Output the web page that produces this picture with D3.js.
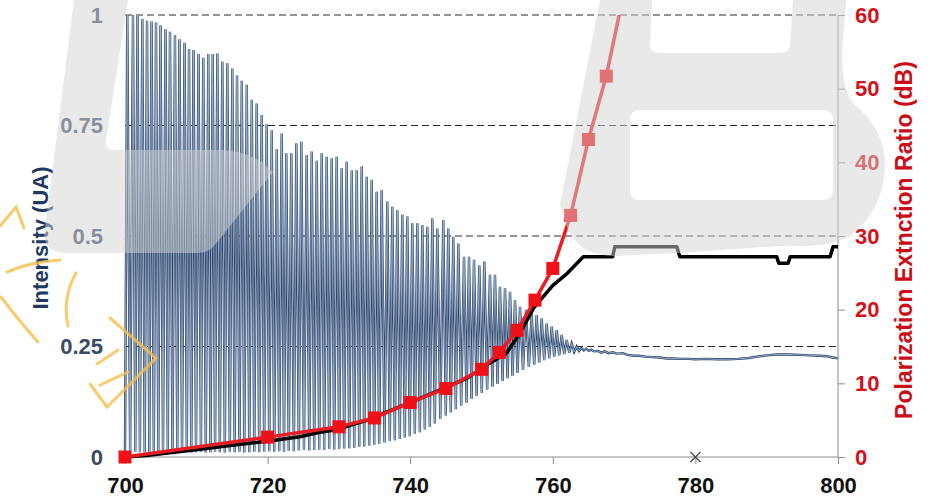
<!DOCTYPE html>
<html>
<head>
<meta charset="utf-8">
<script src="https://cdn.jsdelivr.net/npm/d3@7"></script>
<style>
  html, body { margin: 0; padding: 0; background: #fff; }
  svg { display: block; font-family: "Liberation Sans", Arial, sans-serif; }
</style>
</head>
<body>
<svg width="938" height="501"></svg>
<script>
// fringe maxima (nm, intensity)
var peakWl = [700.32, 701.12, 701.75, 702.43, 703.09, 703.72, 704.35, 704.98, 705.68, 706.31,
  707.01, 707.64, 708.35, 708.98, 709.61, 710.31, 710.98, 711.68, 712.30, 712.95,
  713.65, 714.35, 715.05, 715.71, 716.38, 717.08, 717.78, 718.47, 719.17, 719.87,
  720.58, 721.28, 721.98, 722.62, 723.32, 724.03, 724.73, 725.48, 726.19, 726.89,
  727.59, 728.29, 728.99, 729.69, 730.39, 731.09, 731.80, 732.50, 733.20, 733.90,
  734.60, 735.30, 736.00, 736.79, 737.49, 738.19, 738.89, 739.59, 740.29, 741.00,
  741.70, 742.40, 743.10, 743.80, 744.64, 745.34, 746.04, 746.75, 747.55, 748.25,
  748.95, 749.69, 750.39, 751.19, 751.89, 752.59, 753.30, 754.00, 754.70, 755.40,
  756.24, 757.04, 757.74, 758.44, 759.14, 759.85, 760.55, 761.25, 761.95, 762.65,
  763.35, 764.00, 764.70, 765.40]
var peakI = [1.000, 1.000, 0.998, 0.991, 0.987, 0.985, 0.983, 0.977, 0.968, 0.962,
  0.955, 0.945, 0.937, 0.923, 0.921, 0.912, 0.903, 0.912, 0.912, 0.913,
  0.894, 0.891, 0.879, 0.863, 0.851, 0.842, 0.808, 0.800, 0.774, 0.753,
  0.739, 0.696, 0.732, 0.687, 0.687, 0.710, 0.713, 0.683, 0.691, 0.670,
  0.687, 0.679, 0.676, 0.679, 0.653, 0.668, 0.649, 0.649, 0.657, 0.634,
  0.627, 0.600, 0.604, 0.578, 0.566, 0.559, 0.548, 0.544, 0.529, 0.529,
  0.525, 0.521, 0.540, 0.517, 0.536, 0.517, 0.498, 0.483, 0.453, 0.453,
  0.446, 0.434, 0.442, 0.412, 0.412, 0.385, 0.382, 0.374, 0.355, 0.340,
  0.333, 0.325, 0.321, 0.314, 0.302, 0.295, 0.287, 0.276, 0.265, 0.257,
  0.250, 0.247, 0.245, 0.243]
// fringe minima
var troughWl = [700.00, 700.72, 701.44, 702.09, 702.76, 703.41, 704.04, 704.67, 705.33, 706.00,
  706.66, 707.33, 708.00, 708.67, 709.30, 709.96, 710.65, 711.33, 711.99, 712.63,
  713.30, 714.00, 714.70, 715.38, 716.05, 716.73, 717.43, 718.13, 718.82, 719.52,
  720.23, 720.93, 721.63, 722.30, 722.97, 723.68, 724.38, 725.10, 725.84, 726.54,
  727.24, 727.94, 728.64, 729.34, 730.04, 730.74, 731.45, 732.15, 732.85, 733.55,
  734.25, 734.95, 735.65, 736.40, 737.14, 737.84, 738.54, 739.24, 739.94, 740.65,
  741.35, 742.05, 742.75, 743.45, 744.22, 744.99, 745.69, 746.40, 747.15, 747.90,
  748.60, 749.32, 750.04, 750.79, 751.54, 752.24, 752.95, 753.65, 754.35, 755.05,
  755.82, 756.64, 757.39, 758.09, 758.79, 759.50, 760.20, 760.90, 761.60, 762.30,
  763.00, 763.68, 764.35, 765.05, 765.75]
var troughI = [0.012, 0.010, 0.012, 0.011, 0.010, 0.012, 0.011, 0.010, 0.012, 0.011,
  0.010, 0.012, 0.011, 0.012, 0.010, 0.011, 0.012, 0.010, 0.011, 0.012,
  0.011, 0.010, 0.012, 0.011, 0.012, 0.010, 0.011, 0.012, 0.011, 0.012,
  0.013, 0.012, 0.013, 0.012, 0.014, 0.013, 0.015, 0.016, 0.015, 0.016,
  0.017, 0.016, 0.018, 0.017, 0.018, 0.019, 0.020, 0.021, 0.023, 0.024,
  0.026, 0.028, 0.030, 0.033, 0.036, 0.038, 0.041, 0.044, 0.047, 0.052,
  0.056, 0.062, 0.068, 0.076, 0.086, 0.094, 0.101, 0.108, 0.116, 0.123,
  0.131, 0.138, 0.145, 0.152, 0.159, 0.165, 0.172, 0.178, 0.184, 0.190,
  0.197, 0.204, 0.209, 0.214, 0.219, 0.223, 0.227, 0.230, 0.233, 0.236,
  0.238, 0.240, 0.241, 0.240, 0.239]
// flat part after the fringes die out
var tailWl = [766.3, 766.8, 767.3, 767.8, 768.4, 769.0, 769.8, 770.5, 771.3, 772.0,
  773.0, 774.0, 775.0, 776.0, 777.0, 778.0, 779.0, 780.0, 781.5, 783.0,
  784.5, 786.0, 787.5, 788.6, 790.0, 791.4, 793.0, 794.7, 796.0, 797.3,
  798.5, 799.3, 800.0]
var tailI = [0.240, 0.236, 0.239, 0.235, 0.237, 0.234, 0.235, 0.231, 0.229, 0.229,
  0.227, 0.226, 0.225, 0.223, 0.223, 0.222, 0.222, 0.221, 0.222, 0.221,
  0.221, 0.222, 0.224, 0.227, 0.230, 0.232, 0.232, 0.231, 0.230, 0.229,
  0.228, 0.225, 0.223]

// extinction ratio, continuous (black) and measured points (red)
var blackWl = [700, 703, 706, 710.5, 715, 720, 724.5, 727, 729.5, 734, 738.5, 743, 748, 750.7,
  753.5, 755.4, 757.3, 760, 762, 763.8, 764.3, 768.4, 768.7, 777.4, 777.8, 791.4, 791.7,
  793, 793.3, 798.9, 799.3, 800]
var blackDb = [0, 0.2, 0.55, 1.05, 1.6, 2.15, 2.75, 3.3, 3.7, 5.0, 6.8, 8.6, 10.7, 12.5,
  14.1, 16.8, 20.2, 23.3, 24.9, 26.7, 27.2, 27.2, 28.55, 28.55, 27.2, 27.2, 26.3,
  26.3, 27.2, 27.2, 28.55, 28.55]
var redWl = [700, 720, 730, 735, 740, 745, 750, 752.5, 755, 757.5, 760, 762.5, 765, 767.5, 770]
var redDb = [0, 2.7, 4.1, 5.3, 7.4, 9.3, 11.9, 14.2, 17.2, 21.3, 25.6, 32.8, 43.1, 51.7, 63.2]

var xTicks = [700, 720, 740, 760, 780, 800]
var leftTicks = [0, 0.25, 0.5, 0.75, 1]
var leftLabels = ["0", "0.25", "0.5", "0.75", "1"]
var rightTicks = [0, 10, 20, 30, 40, 50, 60]
var crossWl = [780], crossI = [0]

var svg = d3.select("svg")
var x = d3.scaleLinear().domain([700, 800]).range([125, 838])
var yL = d3.scaleLinear().domain([0, 1]).range([457, 15])
var yR = d3.scaleLinear().domain([0, 60]).range([457, 15])

svg.append("defs").append("clipPath").attr("id", "top")
  .append("rect").attr("x", 0).attr("y", 15).attr("width", 938).attr("height", 486)

// dashed grid
svg.append("g").selectAll("line")
  .data(leftTicks.filter(function(d) { return d > 0 }))
  .enter().append("line")
  .attr("x1", x(700)).attr("x2", x(800))
  .attr("y1", function(d) { return yL(d) }).attr("y2", function(d) { return yL(d) })
  .attr("stroke", "#2b2b2b").attr("stroke-width", 1).attr("stroke-dasharray", "7,4")

// spectrum
var spec = []
for (var i = 0; i < peakWl.length; i++) {
  spec.push([troughWl[i], troughI[i]])
  spec.push([peakWl[i], peakI[i]])
}
spec.push([troughWl[peakWl.length], troughI[peakWl.length]])
tailWl.forEach(function(w, i) { spec.push([w, tailI[i]]) })

var specLine = d3.line().x(function(d) { return x(d[0]) }).y(function(d) { return yL(d[1]) })
svg.append("path").datum(spec).attr("d", specLine)
  .attr("fill", "none").attr("stroke", "#2c4466").attr("stroke-width", 2.4)
  .attr("stroke-linejoin", "miter")
svg.append("path").datum(spec).attr("d", specLine)
  .attr("fill", "none").attr("stroke", "#9fb6d6").attr("stroke-width", 0.9)

// axes
var xAxis = svg.append("g").attr("transform", "translate(0,457)")
  .call(d3.axisBottom(x).tickValues(xTicks).tickSize(7).tickFormat(d3.format("d")))
xAxis.select(".domain").attr("stroke", "#8a8a8a").attr("d", "M125,0H838")
xAxis.selectAll(".tick line").attr("stroke", "#8a8a8a")
xAxis.selectAll(".tick text").attr("y", 20).attr("font-size", 22).attr("font-weight", "bold")
  .attr("fill", "#111").attr("font-family", "Liberation Sans, Arial, sans-serif")

var rAxis = svg.append("g").attr("transform", "translate(838,0)")
  .call(d3.axisRight(yR).tickValues(rightTicks).tickSize(7))
rAxis.select(".domain").attr("stroke", "#8a8a8a").attr("d", "M0,15V457")
rAxis.selectAll(".tick line").attr("stroke", "#8a8a8a")
rAxis.selectAll(".tick text").attr("x", 17).attr("font-size", 22).attr("font-weight", "bold")
  .attr("fill", "#d3121b").attr("font-family", "Liberation Sans, Arial, sans-serif")

var lAxis = svg.append("g").attr("transform", "translate(103,0)")
  .call(d3.axisLeft(yL).tickValues(leftTicks).tickSize(0)
    .tickFormat(function(d, i) { return leftLabels[i] }))
lAxis.select(".domain").remove()
lAxis.selectAll(".tick text").attr("x", 0).attr("font-size", 22).attr("font-weight", "bold")
  .attr("fill", "#3a4b66").attr("font-family", "Liberation Sans, Arial, sans-serif")

// black line
var dbLine = d3.line().x(function(d) { return x(d[0]) }).y(function(d) { return yR(d[1]) })
svg.append("path").datum(blackWl.map(function(w, i) { return [w, blackDb[i]] }))
  .attr("d", dbLine).attr("fill", "none").attr("stroke", "#000").attr("stroke-width", 3.5)
  .attr("stroke-linejoin", "round")

// red line + squares
var red = redWl.map(function(w, i) { return [w, redDb[i]] })
svg.append("path").datum(red).attr("d", dbLine).attr("clip-path", "url(#top)")
  .attr("fill", "none").attr("stroke", "#ec1c24").attr("stroke-width", 3.5)
svg.append("g").selectAll("rect").data(red.filter(function(d) { return d[1] <= 60 }))
  .enter().append("rect")
  .attr("x", function(d) { return x(d[0]) - 6.5 }).attr("y", function(d) { return yR(d[1]) - 6.5 })
  .attr("width", 13).attr("height", 13).attr("fill", "#f01018")

// small cross on the axis
svg.append("g").selectAll("path").data(crossWl).enter().append("path")
  .attr("d", function(d, i) {
    var cx = x(d), cy = yL(crossI[i])
    return "M" + (cx - 5) + "," + (cy - 5) + "L" + (cx + 5) + "," + (cy + 5) +
      "M" + (cx + 5) + "," + (cy - 5) + "L" + (cx - 5) + "," + (cy + 5)
  })
  .attr("stroke", "#444").attr("stroke-width", 1.2)

// axis titles
svg.append("text").attr("transform", "translate(48,238) rotate(-90)")
  .attr("text-anchor", "middle").attr("font-size", 22).attr("font-weight", "bold")
  .attr("fill", "#1f3a60").text("Intensity (UA)")
svg.append("text").attr("transform", "translate(912,240) rotate(-90)")
  .attr("text-anchor", "middle").attr("font-size", 23).attr("font-weight", "bold")
  .attr("fill", "#cc0c16").text("Polarization Extnction Ratio (dB)")

// yellow stamp strokes on the left
var stamp = svg.append("g").attr("fill", "none").attr("stroke", "#f6bf4a")
  .attr("stroke-width", 3).attr("stroke-linecap", "round").attr("opacity", 0.8)
stamp.append("path").attr("d", "M0,226 L16,207 L24,228")
stamp.append("path").attr("d", "M7,272 Q30,262 60,260")
stamp.append("path").attr("d", "M1,297 Q20,322 38,342")
stamp.append("path").attr("d", "M76,273 Q62,298 68,326")
stamp.append("path").attr("d", "M110,318 L156,358 L107,407 L90,384")
stamp.append("path").attr("d", "M97,364 L118,350 M100,385 L128,372")

// grey "L ... B" watermark laid over the chart
svg.append("path").attr("fill", "rgba(212,212,212,0.5)").attr("fill-rule", "evenodd")
  .attr("d", "M74,0 L128,0 L106,140 Q104,150 114,150 L222,150 Q242,150 262,162 L273,172 " +
    "L214,246 Q208,253 198,253 L66,253 Q47,253 44,236 Z " +
    "M600,0 L846,0 L842,55 Q843,95 855,105 Q885,130 885,165 Q884,210 850,236 " +
    "Q830,248 780,246 L680,253 L615,256 Q580,256 568,230 L560,205 Z " +
    "M652,0 L793,0 L790,45 Q789,53 780,53 L660,53 Q650,53 650,45 Z " +
    "M640,110 L823,110 Q833,110 833,120 L833,190 Q833,200 823,200 L640,200 " +
    "Q630,200 630,190 L630,120 Q630,110 640,110 Z")
</script>
</body>
</html>
